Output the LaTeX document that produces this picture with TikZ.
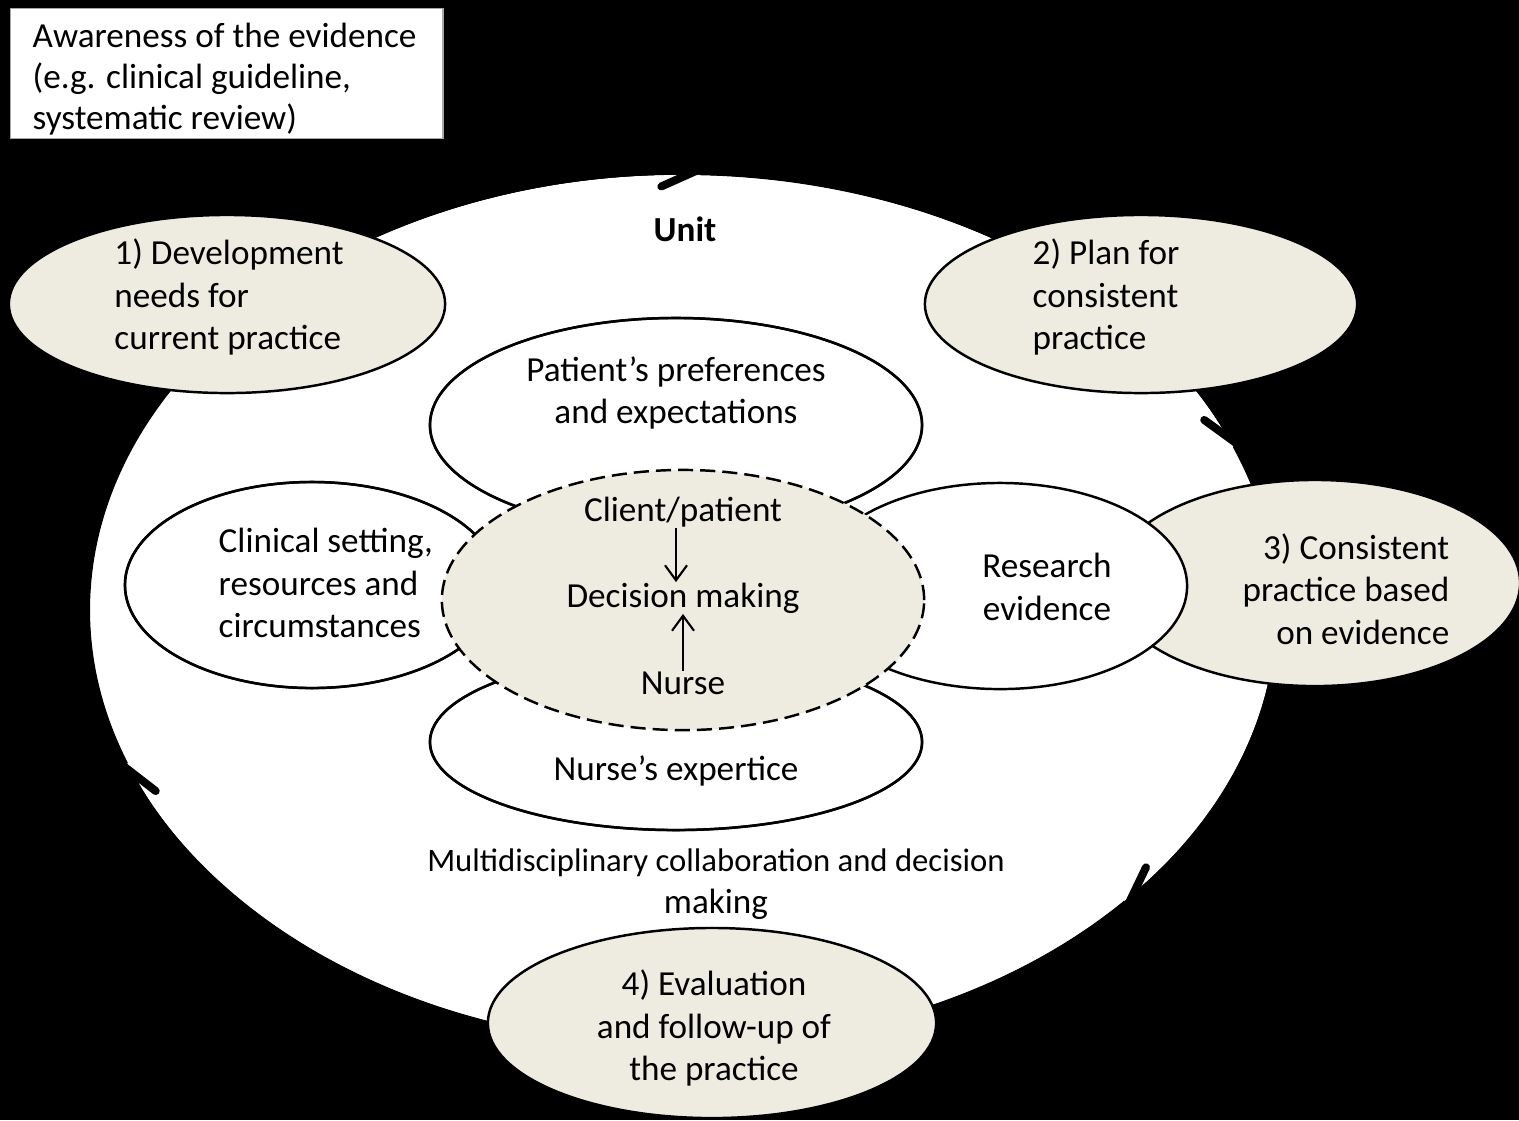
\documentclass[tikz,border=0pt]{standalone}
\usepackage{fontspec}
\setmainfont{Carlito}
\usetikzlibrary{shapes.geometric,arrows.meta}
\definecolor{stagefill}{HTML}{EEECE1}

\begin{document}
\begin{tikzpicture}[x=0.01cm,y=-0.01cm,
		every node/.style={font=\fontsize{10}{12.1}\selectfont},
		stage/.style={ellipse, draw=black, line width=0.7pt, fill=stagefill, inner sep=0pt},
		factor/.style={ellipse, draw=black, line width=0.7pt, fill=white, inner sep=0pt},
		core/.style={ellipse, draw=black, line width=0.7pt, dash pattern=on 4.3pt off 2pt, fill=stagefill, inner sep=0pt},
		txt/.style={inner sep=0pt, align=center},
		roundarrow/.style={line width=0.08cm, -{Straight Barb[length=0.34cm, width=0.32cm, round]}},
		flow/.style={line width=0.6pt, -{Straight Barb[length=0.15cm, width=0.22cm]}}
	]
	\useasboundingbox (0,0) rectangle (1519,1120);
	\clip (0,0) rectangle (1519,1120);
	\fill[black] (0,0) rectangle (1519,1120);

	% evidence box
	\node[draw=gray!70, line width=0.4pt, fill=white, minimum width=4.32cm, minimum height=1.30cm, inner sep=0pt, anchor=north west] (aware) at (10,8) {};
	\node[txt, align=left, anchor=west, font=\fontsize{10}{11.7}\selectfont] (awaretext) at (32,79) {Awareness of the evidence\\(e.g. clinical guideline,\\systematic review)};

	% unit and the cycle
	\node[ellipse, fill=white, minimum width=11.86cm, minimum height=8.70cm, inner sep=0pt] (unit) at (683,610) {};
	\draw[roundarrow] (unit.center) ++(159.4:597 and 439) arc[start angle=159.4, end angle=271.6, x radius=597, y radius=439];
	\draw[roundarrow] (unit.center) ++(271.6:597 and 439) arc[start angle=271.6, end angle=338, x radius=597, y radius=439];
	\draw[roundarrow] (unit.center) ++(338:597 and 439) arc[start angle=338, end angle=402, x radius=597, y radius=439];
	\draw[roundarrow] (unit.center) ++(402:597 and 439) arc[start angle=402, end angle=519.4, x radius=597, y radius=439];

	% stages
	\node[stage, minimum width=4.36cm, minimum height=1.78cm] (s1) at (227,304) {};
	\node[stage, minimum width=4.32cm, minimum height=1.78cm] (s2) at (1141,304) {};
	\node[stage, minimum width=4.10cm, minimum height=2.06cm] (s3) at (1315,583) {};
	\node[stage, minimum width=4.48cm, minimum height=1.90cm] (s4) at (712,1023) {};

	% factors round the decision
	\node[factor, minimum width=4.92cm, minimum height=2.14cm] (pref) at (676,425) {};
	\node[factor, minimum width=4.92cm, minimum height=1.76cm] (exp) at (676,742) {};
	\node[factor, minimum width=3.74cm, minimum height=2.06cm] (setting) at (312,585) {};
	\node[factor, minimum width=3.74cm, minimum height=2.06cm] (research) at (1000,586) {};
	\draw[line width=0.7pt] (pref.center) ellipse[x radius=246, y radius=107];
	\draw[line width=0.7pt] (exp.center) ellipse[x radius=246, y radius=88];
	\draw[line width=0.7pt] (setting.center) ellipse[x radius=187, y radius=103];
	\node[core, minimum width=4.82cm, minimum height=2.60cm] (decisionzone) at (683,600) {};

	% texts
	\node[txt, font=\fontsize{10}{12.1}\selectfont\bfseries] (unitname) at (685,229) {Unit};
	\node[txt, align=left] (s1text) at (229,297) {1) Development\\needs for\\current practice};
	\node[txt, align=left, anchor=west] (s2text) at (1032,297) {2) Plan for\\consistent\\practice};
	\node[txt, align=right, anchor=east] (s3text) at (1450,589) {3) Consistent\\practice based\\on evidence};
	\node[txt] (s4text) at (714,1028) {4) Evaluation\\and follow-up of\\the practice};
	\node[txt] (preftext) at (676,393) {Patient’s preferences\\and expectations};
	\node[txt, align=left, anchor=west] (settingtext) at (218,583) {Clinical setting,\\resources and\\circumstances};
	\node[txt] (researchtext) at (1047,587) {Research\\evidence};
	\node[txt] (exptext) at (676,771) {Nurse’s expertice};
	\node[txt] (multi) at (716,884) {\fontsize{9.3}{11.3}\selectfont Multidisciplinary collaboration and decision\\making};

	% decision making
	\node[txt] (client) at (683,512) {Client/patient};
	\node[txt] (decision) at (683,598) {Decision making};
	\node[txt] (nurse) at (683,683) {Nurse};
	\draw[flow] ([xshift=-0.07cm]client.south) -- ([xshift=-0.07cm]decision.north);
	\draw[flow] (nurse.north) -- (decision.south);
\end{tikzpicture}
\end{document}
